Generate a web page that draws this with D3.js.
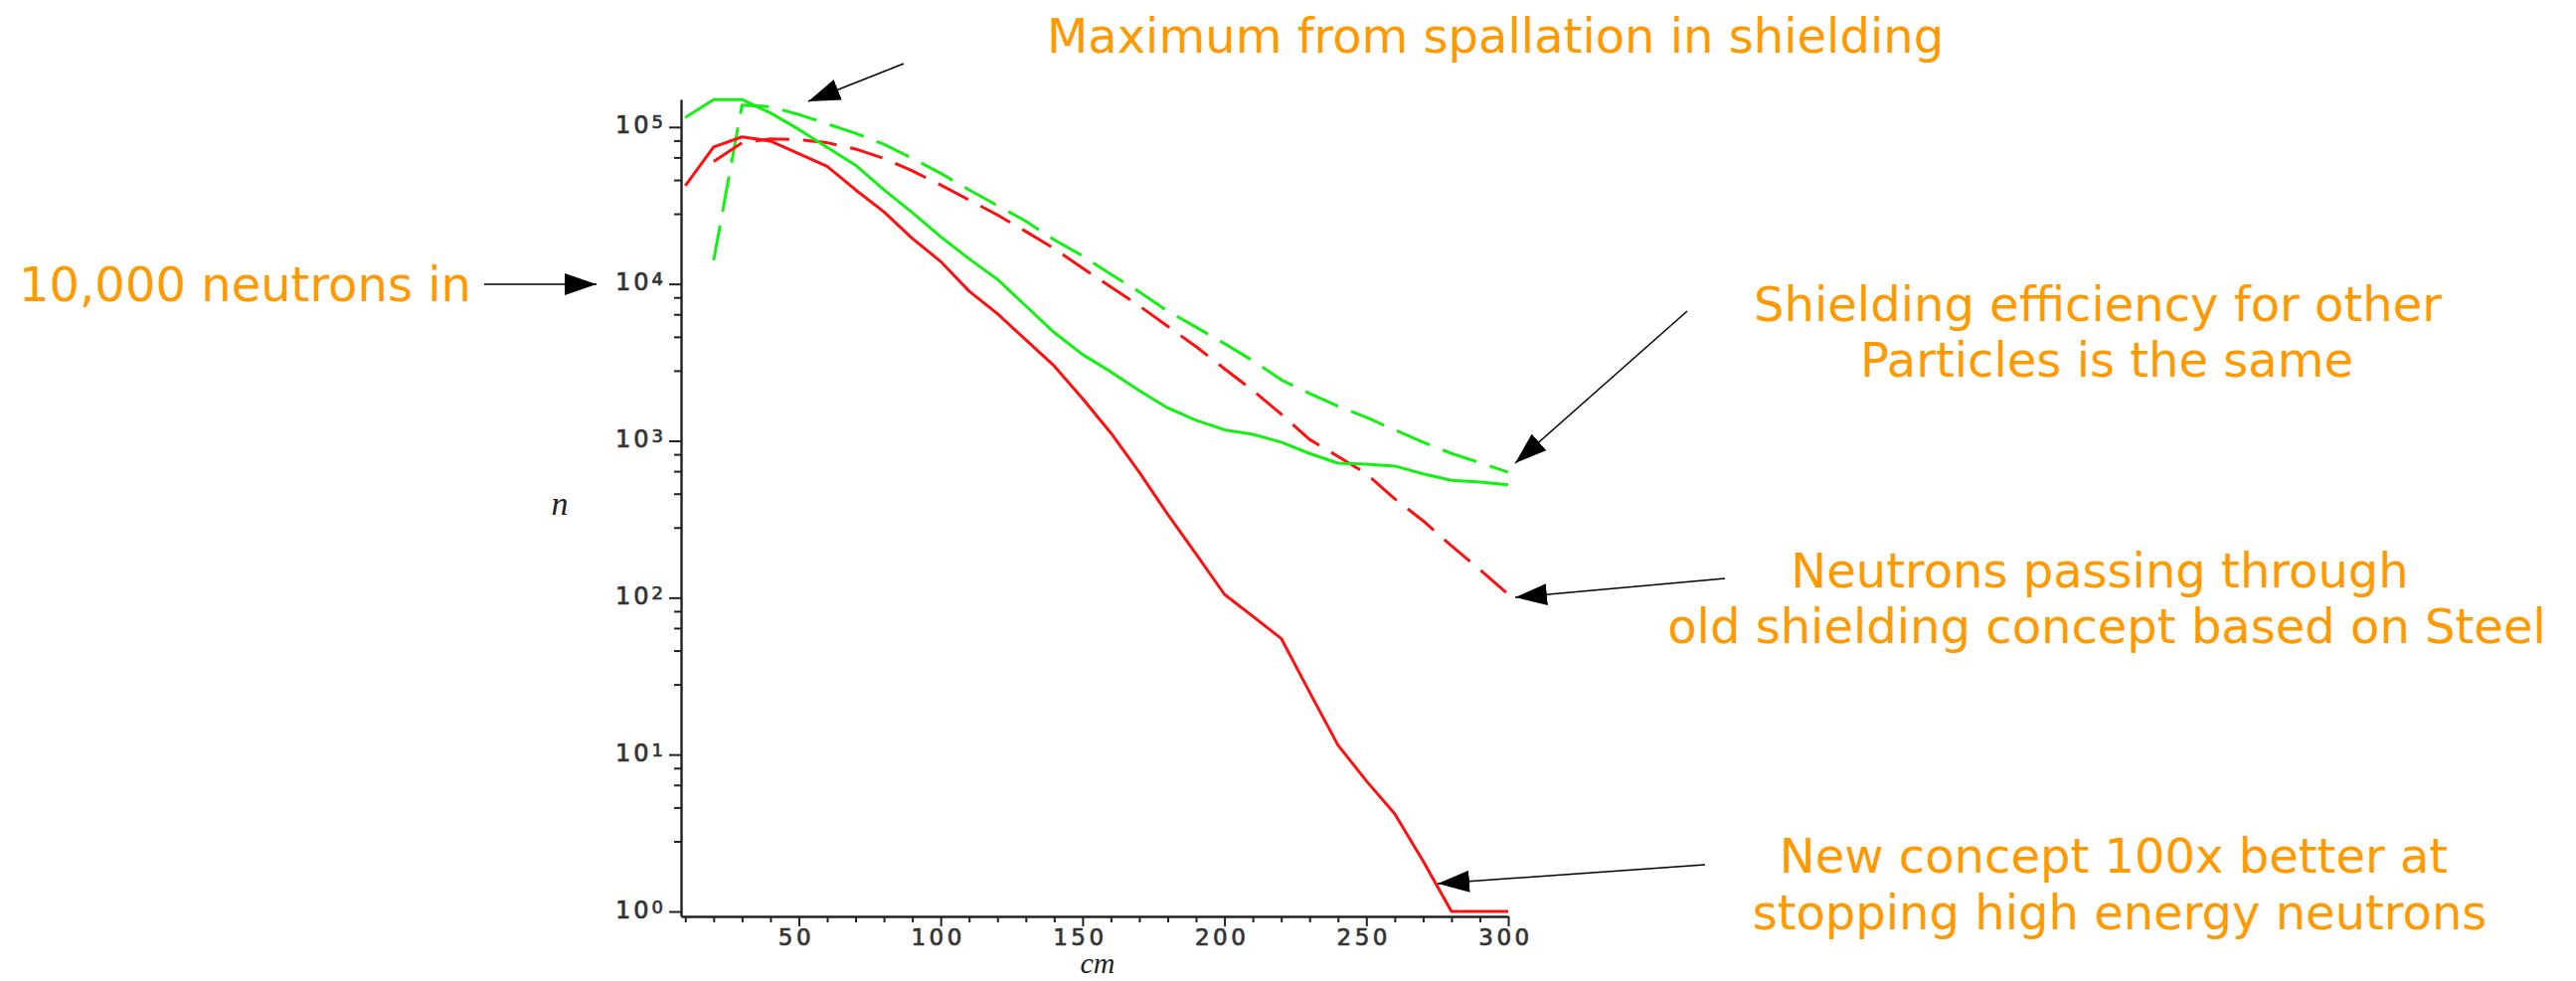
<!doctype html>
<html lang="en">
<head>
<meta charset="UTF-8">
<title>Neutron shielding</title>
<script src="https://d3js.org/d3.v7.min.js"></script>
<style>
  body { margin: 0; background: #fff; }
  .tick line, .domain { stroke: #222; }
  .note { font-family: "DejaVu Sans", sans-serif; font-size: 48px; fill: #ff9900; }
  .ticklabel { font-family: "DejaVu Sans", sans-serif; fill: #333; stroke: #333; stroke-width: 0.7px; }
  .axistitle { font-family: "Liberation Serif", serif; font-style: italic; fill: #222; }
</style>
</head>
<body>
<div id="chart"></div>
<script>
// depth in shielding (cm)
var depth = [10, 20, 30, 40, 50, 60, 70, 80, 90, 100, 110, 120, 130, 140, 150,
             160, 170, 180, 190, 200, 210, 220, 230, 240, 250, 260, 270, 280, 290, 300];
var depthOld = [20, 30, 40, 50, 60, 70, 80, 90, 100, 110, 120, 130, 140, 150,
                160, 170, 180, 190, 200, 210, 220, 230, 240, 250, 260, 270, 280, 290, 300];

// new concept (solid)
var newNeutrons = [42300, 74600, 86500, 81300, 67600, 56200, 39800, 28800, 19500, 13900,
                   9000, 6450, 4400, 3000, 1860, 1120, 630, 340, 190, 105,
                   76, 55, 25, 11.5, 6.8, 4.2, 2.1, 1, 1, 1];
var newOther = [114800, 149600, 149600, 123000, 96600, 74100, 57100, 39800, 28500, 20000,
                14450, 10700, 7240, 4900, 3550, 2750, 2090, 1620, 1350, 1175,
                1100, 980, 830, 720, 710, 690, 615, 560, 545, 525];

// old steel concept (dashed)
var oldNeutrons = [60300, 79400, 84100, 83200, 79400, 72400, 63100, 52500, 42700, 34300,
                   27500, 21600, 16800, 12600, 9550, 7240, 5370, 3980, 2880, 2090,
                   1480, 1020, 795, 617, 427, 309, 214, 151, 105];
var oldOther = [14100, 138000, 134900, 120200, 104700, 91200, 77600, 63100, 50700, 39800,
                31600, 25100, 19100, 15100, 11500, 8900, 6700, 5300, 4170, 3240,
                2450, 2000, 1660, 1410, 1175, 980, 830, 725, 630];

var xMajor = [50, 100, 150, 200, 250, 300];
var xMinor = [10, 20, 30, 40, 60, 70, 80, 90, 110, 120, 130, 140, 160, 170, 180, 190,
              210, 220, 230, 240, 260, 270, 280, 290];
var yExponents = [0, 1, 2, 3, 4, 5];
var yMinorSteps = [2.8, 4.6, 6.4, 8.2];

var svg = d3.select("#chart").append("svg")
    .attr("width", 2591)
    .attr("height", 987)
    .style("background", "#fff");

var x = d3.scaleLinear().domain([8.5, 300]).range([685, 1517]);
var y = d3.scaleLog().domain([0.93, 150000]).range([922, 100]);

var yMajor = yExponents.map(function(e) { return Math.pow(10, e); });
var yMinor = [];
yExponents.forEach(function(e) {
    yMinorSteps.forEach(function(s) {
        var v = s * Math.pow(10, e);
        if (v < 150000) yMinor.push(v);
    });
});

// x axis
var xg = svg.append("g").attr("transform", "translate(0,922)")
    .call(d3.axisBottom(x).tickValues(xMinor).tickSize(6).tickSizeOuter(0).tickFormat(""));
xg.select(".domain").attr("stroke-width", 2.4);
xg.selectAll(".tick line").attr("stroke-width", 2);

var xg2 = svg.append("g").attr("transform", "translate(0,922)")
    .call(d3.axisBottom(x).tickValues(xMajor).tickSize(10).tickPadding(3).tickSizeOuter(0));
xg2.select(".domain").remove();
xg2.selectAll(".tick line").attr("stroke-width", 2);
xg2.selectAll(".tick text")
    .attr("class", "ticklabel")
    .attr("font-size", 23)
    .attr("letter-spacing", 3.5)
    .attr("dx", -3);

// y axis
var yg = svg.append("g").attr("transform", "translate(685,0)")
    .call(d3.axisLeft(y).tickValues(yMinor).tickSize(7).tickSizeOuter(0).tickFormat(""));
yg.select(".domain").attr("stroke-width", 2.4);
yg.selectAll(".tick line").attr("stroke-width", 2);

var yg2 = svg.append("g").attr("transform", "translate(685,0)")
    .call(d3.axisLeft(y).tickValues(yMajor).tickSize(12).tickFormat(""));
yg2.select(".domain").remove();
yg2.selectAll(".tick line").attr("stroke-width", 2);
yg2.selectAll(".tick").each(function(d) {
    var t = d3.select(this).append("text")
        .attr("class", "ticklabel")
        .attr("x", -15)
        .attr("y", 6)
        .attr("text-anchor", "end")
        .attr("letter-spacing", 3)
        .attr("font-size", 24);
    t.append("tspan").text("10");
    t.append("tspan").attr("font-size", 18).attr("dy", -5).text(Math.round(Math.log10(d)));
});

// axis titles
svg.append("text").attr("class", "axistitle")
    .attr("x", 1104).attr("y", 979).attr("text-anchor", "middle")
    .attr("font-size", 30).text("cm");
svg.append("text").attr("class", "axistitle")
    .attr("x", 563).attr("y", 518).attr("text-anchor", "middle")
    .attr("font-size", 34).text("n");

// curves
var line = d3.line()
    .x(function(d) { return x(d[0]); })
    .y(function(d) { return y(d[1]); });

var series = [
    { xs: depthOld, ys: oldOther, color: "#14f014", dash: "36,14" },
    { xs: depthOld, ys: oldNeutrons, color: "#ff1010", dash: "34,14" },
    { xs: depth, ys: newOther, color: "#14f014", dash: null },
    { xs: depth, ys: newNeutrons, color: "#ff1010", dash: null }
];

series.forEach(function(s) {
    svg.append("path")
        .datum(d3.zip(s.xs, s.ys))
        .attr("fill", "none")
        .attr("stroke", s.color)
        .attr("stroke-width", 3)
        .attr("stroke-linejoin", "round")
        .attr("stroke-dasharray", s.dash)
        .attr("d", line);
});

// annotations
var defs = svg.append("defs");
defs.append("marker")
    .attr("id", "head")
    .attr("markerUnits", "userSpaceOnUse")
    .attr("viewBox", "0 0 32 22")
    .attr("markerWidth", 32)
    .attr("markerHeight", 22)
    .attr("refX", 32)
    .attr("refY", 11)
    .attr("orient", "auto")
    .append("path")
    .attr("d", "M0,0L32,11L0,22Z")
    .attr("fill", "#000");

var arrows = [
    [909, 64, 813, 102],
    [487, 286, 600, 286],
    [1697, 313, 1524, 466],
    [1735, 582, 1524, 601],
    [1715, 870, 1446, 889]
];
arrows.forEach(function(a) {
    svg.append("line")
        .attr("x1", a[0]).attr("y1", a[1])
        .attr("x2", a[2]).attr("y2", a[3])
        .attr("stroke", "#000")
        .attr("stroke-width", 1.5)
        .attr("marker-end", "url(#head)");
});

var notes = [
    ["Maximum from spallation in shielding", 1504, 53, "middle"],
    ["10,000 neutrons in", 19, 303, "start"],
    ["Shielding efficiency for other", 2110, 323, "middle"],
    ["Particles is the same", 2119, 379, "middle"],
    ["Neutrons passing through", 2112, 591, "middle"],
    ["old shielding concept based on Steel", 2119, 647, "middle"],
    ["New concept 100x better at", 2126, 878, "middle"],
    ["stopping high energy neutrons", 2132, 935, "middle"]
];
notes.forEach(function(n) {
    svg.append("text")
        .attr("class", "note")
        .attr("x", n[1]).attr("y", n[2])
        .attr("text-anchor", n[3])
        .text(n[0]);
});
</script>
</body>
</html>
